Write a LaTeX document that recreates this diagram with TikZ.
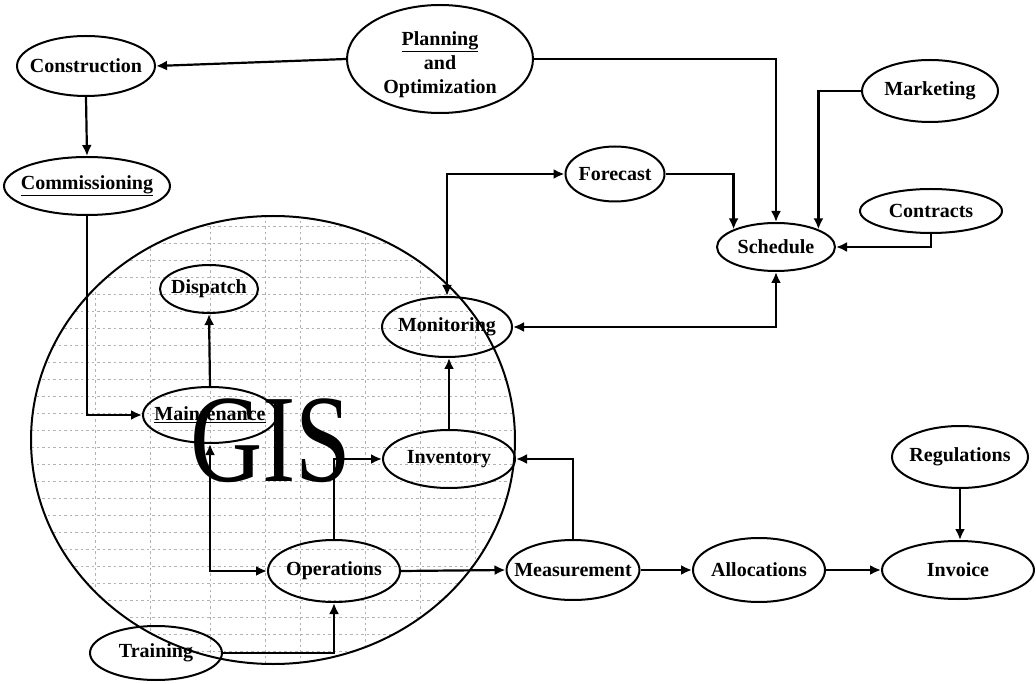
\documentclass[tikz,border=0pt]{standalone}
\usepackage{fontspec}
\setmainfont{Liberation Serif}
\usetikzlibrary{shapes.geometric,arrows.meta}
\newcommand\lbl[1]{\makebox[0pt]{#1}}
\tikzset{
  ell/.style={ellipse, draw, line width=2pt, inner sep=0pt,
    font=\bfseries\fontsize{20}{24}\selectfont},
  arr/.style={line width=2.2pt, -{Latex[length=11pt,width=10pt]}},
  arrb/.style={line width=2.2pt, {Latex[length=11pt,width=10pt]}-{Latex[length=11pt,width=10pt]}},
  gridline/.style={gray!60, line width=0.7pt, dash pattern=on 2.5pt off 3pt}
}
\begin{document}
\begin{tikzpicture}[x=1pt,y=-1pt]
\useasboundingbox (0,0) rectangle (1036,684);

% GIS region
\begin{scope}
  \clip (273,440) ellipse [x radius=242pt, y radius=224pt];
  \foreach \yy in {226,243,...,664} \draw[gridline] (20,\yy) -- (520,\yy);
  \foreach \xx in {95,150,210,265,300,365,420,475} \draw[gridline] (\xx,210) -- (\xx,670);
\end{scope}
\draw[line width=2pt] (273,440) ellipse [x radius=242pt, y radius=224pt];

% nodes
\node[ell, minimum width=138pt, minimum height=60pt] (cons) at (86,66) {\lbl{Construction}};
\node[ell, minimum width=186pt, minimum height=108pt] (plan) at (440,59) {\lbl{\raisebox{-6pt}[\height][\depth]{\begin{tabular}{@{}c@{}}\underline{Planning}\\and\\Optimization\end{tabular}}}};
\node[ell, minimum width=166pt, minimum height=58pt] (comm) at (87,186) {\lbl{\underline{Commissioning}}};
\node[ell, minimum width=136pt, minimum height=62pt] (mkt) at (930,91) {\lbl{Marketing}};
\node[ell, minimum width=99pt, minimum height=55pt] (fore) at (615,174) {\lbl{Forecast}};
\node[ell, minimum width=142pt, minimum height=44pt] (cont) at (931,211) {\lbl{Contracts}};
\node[ell, minimum width=118pt, minimum height=48pt] (sch) at (776,247) {\lbl{Schedule}};
\node[ell, minimum width=98pt, minimum height=48pt] (disp) at (209,289) {\lbl{Dispatch}};
\node[ell, minimum width=130pt, minimum height=60pt] (mon) at (447,327) {\lbl{Monitoring}};
\node[ell, minimum width=134pt, minimum height=56pt] (maint) at (210,415) {\lbl{\underline{Maintenance}}};
\node[ell, minimum width=132pt, minimum height=58pt] (inv) at (449,459) {\lbl{Inventory}};
\node[ell, minimum width=136pt, minimum height=62pt] (reg) at (960,457) {\lbl{Regulations}};
\node[ell, minimum width=132pt, minimum height=62pt] (ops) at (334,571) {\lbl{Operations}};
\node[ell, minimum width=133pt, minimum height=60pt] (meas) at (573,570) {\lbl{Measurement}};
\node[ell, minimum width=132pt, minimum height=64pt] (alloc) at (759,570) {\lbl{Allocations}};
\node[ell, minimum width=152pt, minimum height=58pt] (invc) at (958,570) {\lbl{Invoice}};
\node[ell, minimum width=132pt, minimum height=54pt] (train) at (156,653) {\lbl{Training}};

% connectors
\draw[arr] (plan.west) -- (cons.east);
\draw[arr] (cons.south) -- (comm.north);
\draw[arr] (comm.south) |- (maint.west);
\draw[arr] (maint.north) -- (disp.south);
\draw[arrb] (maint.south) |- (ops.west);
\draw[arr] (ops.north) |- (inv.west);
\draw[arr] (inv.north) -- (inv.north |- mon.south);
\draw[arrb] (mon.north) |- (fore.west);
\draw[arr] (fore.east) -| (sch.north west);
\draw[arr] (plan.east) -| (sch.north);
\draw[arr] (mkt.west) -| (sch.north east);
\draw[arr] (cont.south) |- (sch.east);
\draw[arrb] (mon.east) -| (sch.south);
\draw[arr] (train.east) -| (ops.south);
\draw[arr] (ops.east) -- (meas.west);
\draw[arr] (meas.north) |- (inv.east);
\draw[arr] (meas.east) -- (alloc.west);
\draw[arr] (alloc.east) -- (invc.west);
\draw[arr] (reg.south) -- (reg.south |- invc.north);

% GIS label
\node[inner sep=0pt, font=\fontsize{125}{125}\selectfont] (gis) at (271,441) {\scalebox{0.8}[1]{GIS}};
\end{tikzpicture}
\end{document}
